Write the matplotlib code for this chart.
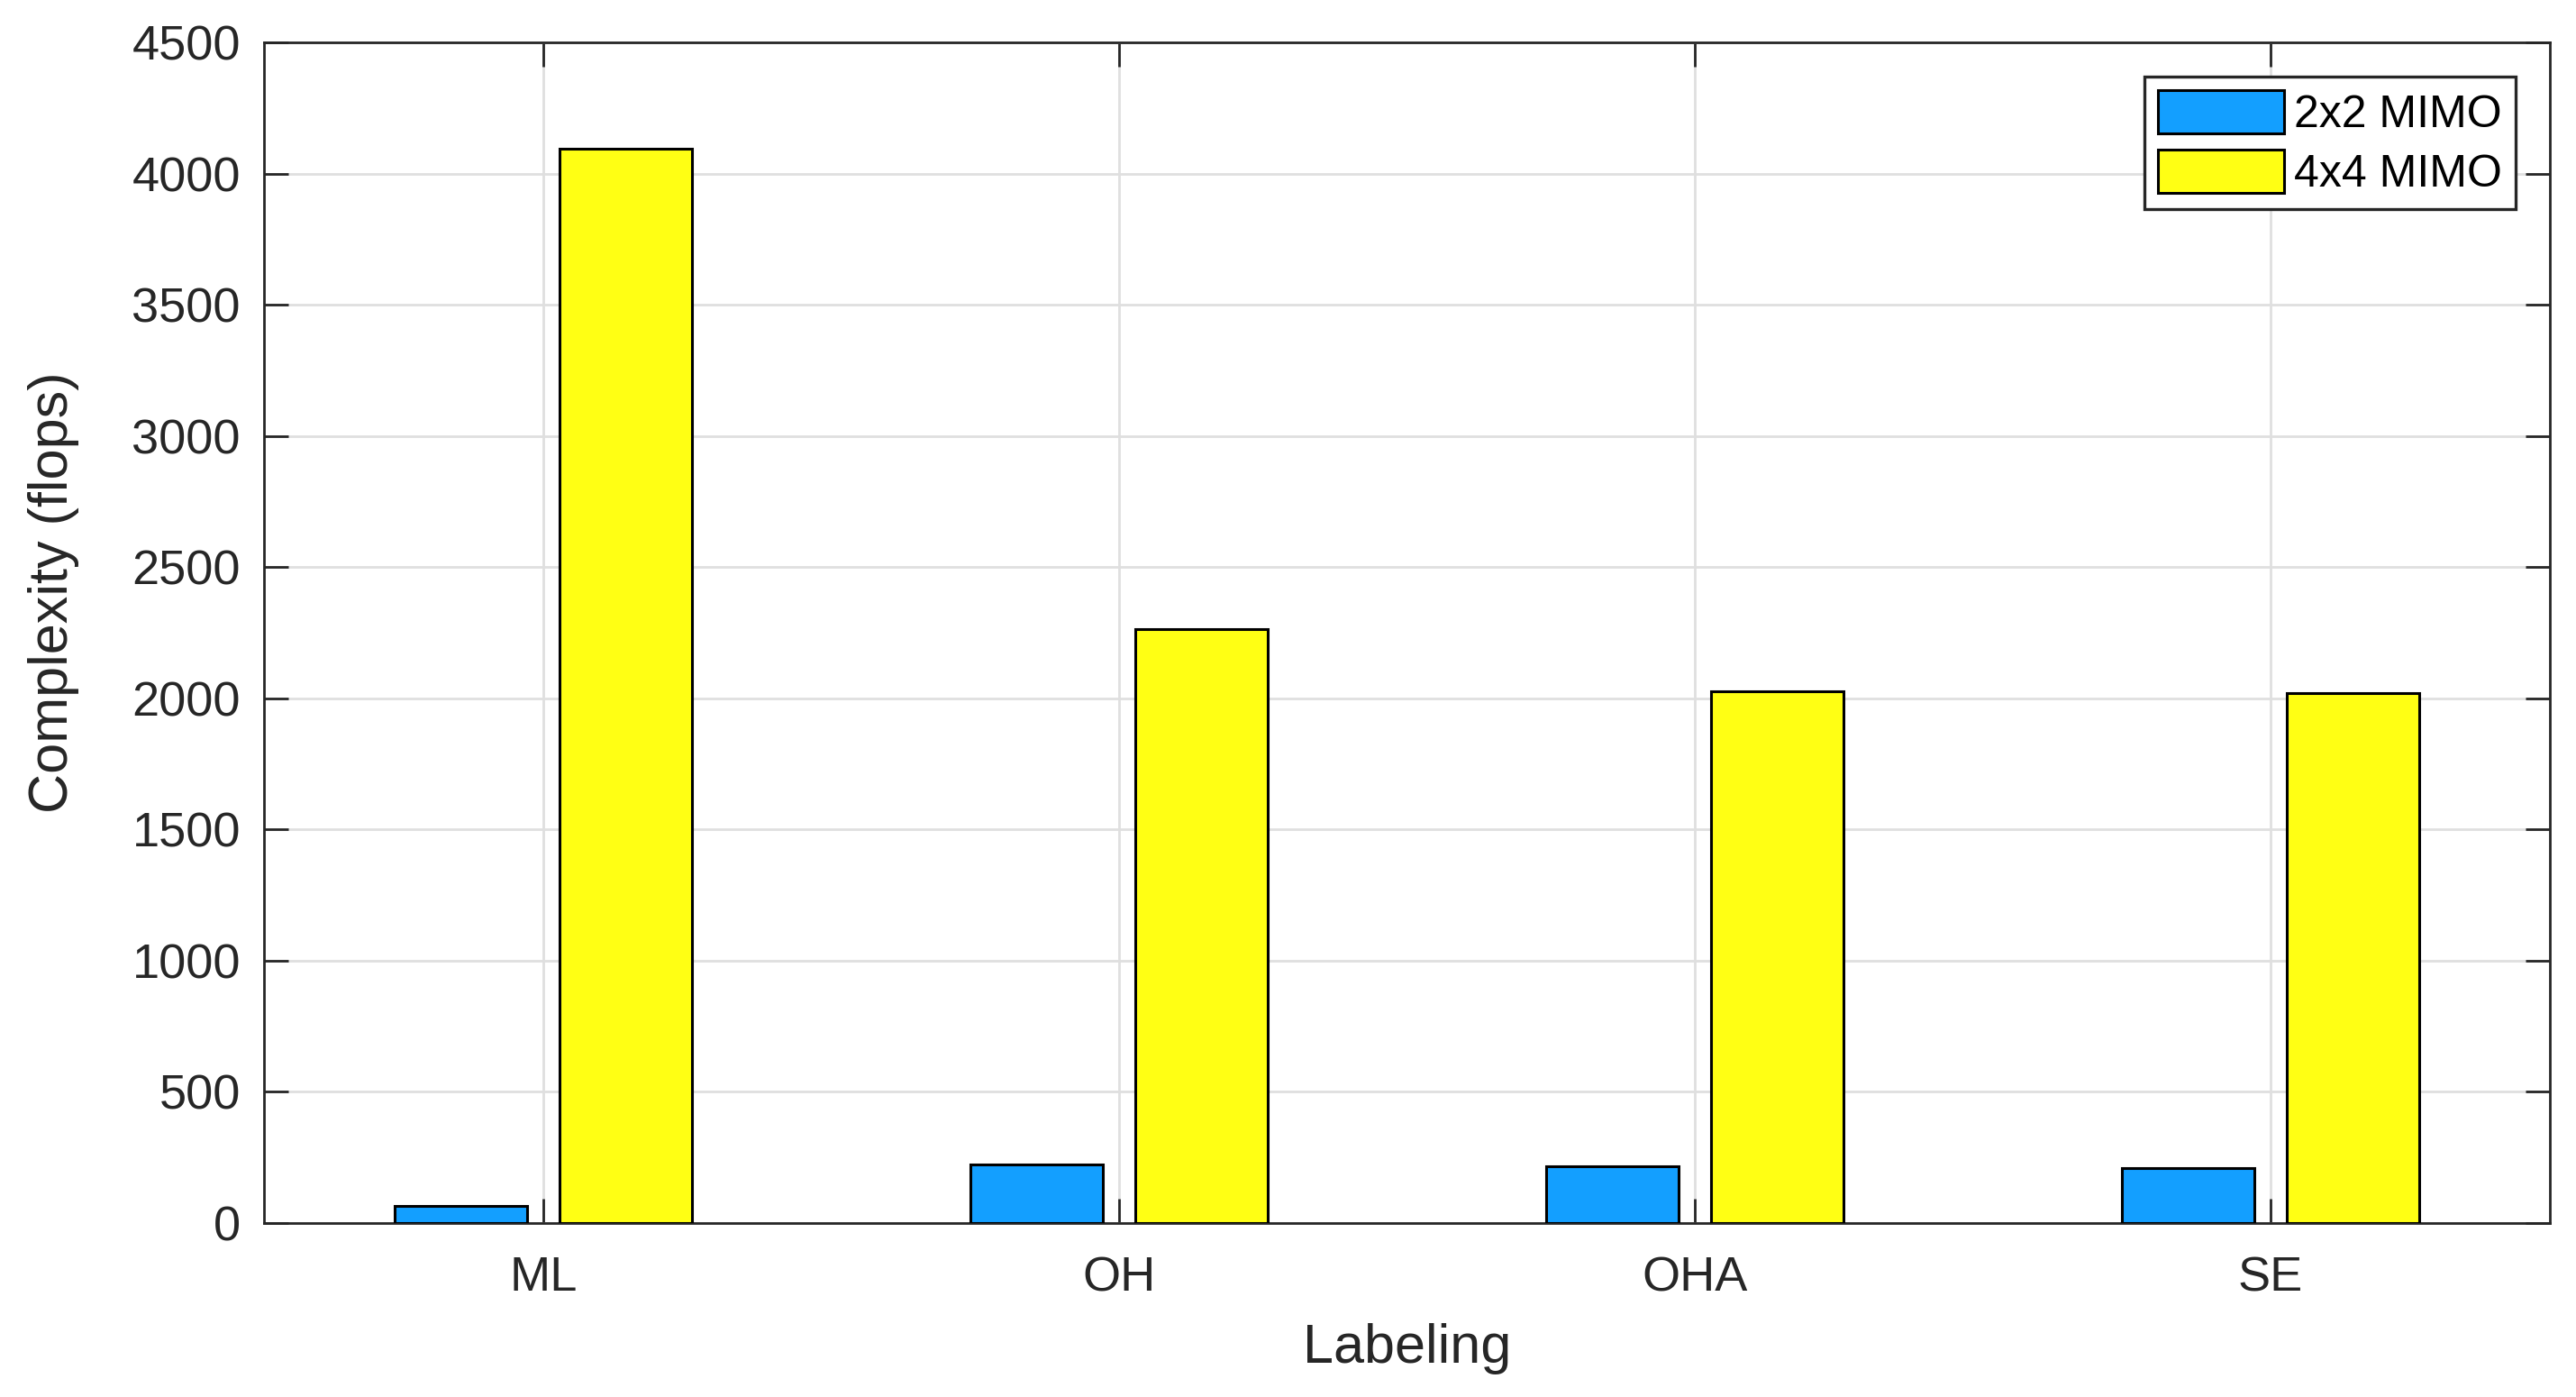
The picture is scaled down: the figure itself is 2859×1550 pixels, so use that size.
import matplotlib
matplotlib.use("Agg")
import matplotlib.pyplot as plt
import numpy as np

# complexity in flops
labels = ["ML", "OH", "OHA", "SE"]
mimo_2x2 = [64, 222, 215, 210]
mimo_4x4 = [4096, 2264, 2027, 2019]
series_names = ["2x2 MIMO", "4x4 MIMO"]
yticks = [0, 500, 1000, 1500, 2000, 2500, 3000, 3500, 4000, 4500]


def main():
    plt.rcParams["font.family"] = ["Liberation Sans", "DejaVu Sans"]
    dark = "#262626"

    fig = plt.figure(figsize=(14.295, 7.75), dpi=200)
    ax = fig.add_axes([0.1025, 0.1245, 0.8873, 0.8452])

    x = np.arange(1, len(labels) + 1)
    w = 0.23
    off = 0.143
    ax.bar(x - off, mimo_2x2, w, color="#139fff", edgecolor="black",
           linewidth=1.1, label=series_names[0], zorder=3)
    ax.bar(x + off, mimo_4x4, w, color="#ffff14", edgecolor="black",
           linewidth=1.1, label=series_names[1], zorder=3)

    ax.set_xlim(0.515, 4.485)
    ax.set_ylim(0, 4500)
    ax.set_xticks(x)
    ax.set_xticklabels(labels)
    ax.set_yticks(yticks)

    ax.set_axisbelow(True)
    ax.grid(True, color="#dfdfdf", linewidth=1.0)
    for s in ax.spines.values():
        s.set_color(dark)
        s.set_linewidth(1.0)

    ax.tick_params(axis="both", direction="in", top=True, right=True,
                   length=9.7, width=1.0, color=dark, labelcolor=dark,
                   labelsize=19.5)
    ax.tick_params(axis="x", pad=13)
    ax.tick_params(axis="y", pad=9.4)

    ax.set_xlabel("Labeling", fontsize=22, color=dark)
    ax.set_ylabel("Complexity (flops)", fontsize=22, color=dark)
    ax.xaxis.set_label_coords(0.5, -0.0847)
    ax.yaxis.set_label_coords(-0.0808, 0.534)

    leg = ax.legend(loc="upper right", fontsize=18, fancybox=False,
                    framealpha=1, edgecolor=dark, handlelength=2.8,
                    handleheight=1.1, handletextpad=0.22, labelspacing=0.3,
                    borderpad=0.3, borderaxespad=0.76)
    leg.get_frame().set_linewidth(1.2)
    for t in leg.get_texts():
        t.set_color("black")

    plt.savefig("out.png", dpi=200)
    plt.close("all")


if __name__ == '__main__':
    main()
